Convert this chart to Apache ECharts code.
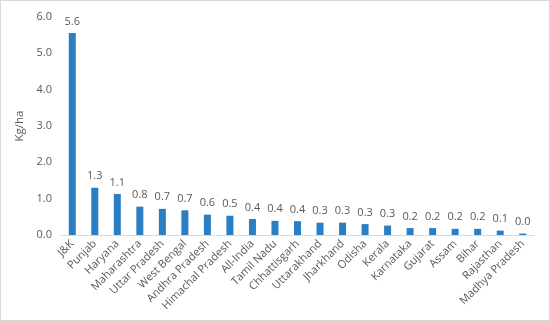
<!DOCTYPE html>
<html><head><meta charset="utf-8">
<script src="https://cdn.jsdelivr.net/npm/echarts@6/dist/echarts.min.js"></script>
<style>html,body{margin:0;padding:0;background:#fff}#c{width:548px;height:319px;border:1px solid #d9d9d9}</style>
</head><body><div id="c"></div>
<script>
const states = ["J&K","Punjab","Haryana","Maharashtra","Uttar Pradesh","West Bengal","Andhra Pradesh","Himachal Pradesh","All-India","Tamil Nadu","Chhattisgarh","Uttarakhand","Jharkhand","Odisha","Kerala","Karnataka","Gujarat","Assam","Bihar","Rajasthan","Madhya Pradesh"];
const values = [5.56,1.30,1.13,0.78,0.72,0.68,0.56,0.53,0.44,0.39,0.38,0.34,0.34,0.30,0.26,0.19,0.19,0.17,0.17,0.12,0.04];
const yTicks = [0,1,2,3,4,5,6];
const chart = echarts.init(document.getElementById('c'));
const txt = '#595959';
chart.setOption({
  animation:false,
  textStyle:{fontFamily:'Open Sans'},
  grid:{left:60,right:15,top:16,bottom:85},
  xAxis:{type:'category',data:states,
    axisLine:{lineStyle:{color:'#d9d9d9'}},axisTick:{show:false},
    axisLabel:{rotate:45,color:txt,fontSize:11,interval:0,margin:7}},
  yAxis:{type:'value',min:yTicks[0],max:yTicks[yTicks.length-1],interval:1,
    name:'Kg/ha',nameLocation:'middle',nameGap:25,nameTextStyle:{color:txt,fontSize:11.5},
    splitLine:{show:false},axisLine:{show:false},axisTick:{show:false},
    axisLabel:{color:txt,fontSize:11,formatter:v=>v.toFixed(1),margin:9}},
  series:[{type:'bar',data:values,barWidth:7,itemStyle:{color:'#2a7ec4'},
    label:{show:true,position:'top',color:txt,fontSize:11,distance:6,formatter:p=>p.value.toFixed(1)}}]
});
</script></body></html>
